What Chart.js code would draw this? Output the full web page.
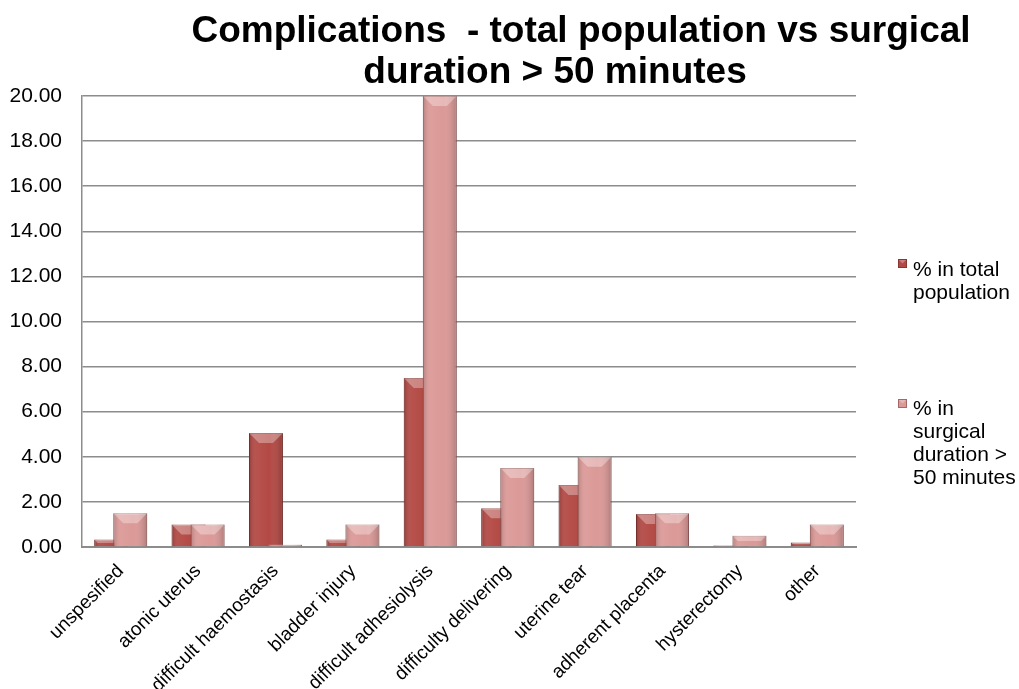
<!DOCTYPE html>
<html><head><meta charset="utf-8">
<script src="https://cdn.jsdelivr.net/npm/chart.js@4.4.1/dist/chart.umd.min.js"></script>
<style>html,body{margin:0;padding:0;background:#fff;} canvas{display:block;}</style>
</head><body>
<canvas id="c" width="1019" height="689"></canvas>
<script>
const categories = ['unspesified', 'atonic uterus', 'difficult haemostasis', 'bladder injury', 'difficult adhesiolysis', 'difficulty delivering', 'uterine tear', 'adherent placenta', 'hysterectomy', 'other'];
const totalPopulation = [0.33, 1.0, 5.05, 0.33, 7.5, 1.72, 2.75, 1.46, 0.07, 0.2];
const surgicalOver50 = [1.5, 1.0, 0.1, 1.0, 20.0, 3.5, 4.0, 1.5, 0.5, 1.0];
const yTicks = [0, 2, 4, 6, 8, 10, 12, 14, 16, 18, 20];
const seriesNames = ['% in total population', '% in surgical duration > 50 minutes'];
const legendLines = [['% in total', 'population'], ['% in', 'surgical', 'duration >', '50 minutes']];
const titleLines = ['Complications  - total population vs surgical', 'duration > 50 minutes'];

const FONT = '"Liberation Sans", Arial, Helvetica, sans-serif';
Chart.defaults.font.family = FONT;
Chart.defaults.color = '#000';

const colors = [
  {fill: '#b34944', border: '#8a3532'},
  {fill: '#db9997', border: '#a56866'}
];

function shadeBars(ctx, meta) {
  meta.data.forEach(bar => {
    const p = bar.getProps(['x', 'y', 'base', 'width'], true);
    const left = p.x - p.width / 2, right = p.x + p.width / 2;
    const top = Math.min(p.y, p.base), bottom = Math.max(p.y, p.base);
    const h = bottom - top;
    if (h <= 0) return;
    const g = ctx.createLinearGradient(left, 0, right, 0);
    g.addColorStop(0, 'rgba(0,0,0,0.18)');
    g.addColorStop(0.2, 'rgba(255,255,255,0.06)');
    g.addColorStop(0.6, 'rgba(255,255,255,0)');
    g.addColorStop(1, 'rgba(0,0,0,0.2)');
    ctx.fillStyle = g;
    ctx.fillRect(left, top, p.width, h);
    const b = Math.min(10, h / 2, p.width / 2);
    ctx.beginPath();
    ctx.moveTo(left, top); ctx.lineTo(right, top);
    ctx.lineTo(right - b, top + b); ctx.lineTo(left + b, top + b); ctx.closePath();
    ctx.fillStyle = 'rgba(255,255,255,0.32)';
    ctx.fill();
  });
}

const drawOrder = {
  id: 'drawOrder',
  beforeDatasetsDraw(chart) {
    const ctx = chart.ctx, a = chart.chartArea;
    ctx.save();
    ctx.beginPath();
    ctx.rect(a.left, a.top - 2, a.right - a.left, a.bottom - a.top + 2);
    ctx.clip();
    [0, 1].forEach(i => {
      const meta = chart.getDatasetMeta(i);
      meta.controller.draw();
      shadeBars(ctx, meta);
    });
    ctx.restore();
    return false;
  }
};

const titleAndLegend = {
  id: 'titleAndLegend',
  afterDraw(chart) {
    const ctx = chart.ctx;
    ctx.save();
    ctx.fillStyle = '#000';
    ctx.textBaseline = 'alphabetic';
    ctx.textAlign = 'center';
    ctx.font = 'bold 37px ' + FONT;
    ctx.fillText(titleLines[0], 581, 42);
    ctx.fillText(titleLines[1], 555, 83);

    ctx.textAlign = 'left';
    ctx.font = '21px ' + FONT;
    const boxY = [259, 399];
    const firstBase = [276, 415];
    legendLines.forEach((lines, i) => {
      const bx = 898, by = boxY[i];
      ctx.fillStyle = colors[i].fill;
      ctx.fillRect(bx, by, 9, 9);
      ctx.fillStyle = 'rgba(255,255,255,0.3)';
      ctx.beginPath(); ctx.moveTo(bx, by); ctx.lineTo(bx + 9, by); ctx.lineTo(bx + 4.5, by + 4.5); ctx.closePath(); ctx.fill();
      ctx.strokeStyle = colors[i].border; ctx.lineWidth = 1;
      ctx.strokeRect(bx + 0.5, by + 0.5, 8, 8);
      ctx.fillStyle = '#000';
      lines.forEach((t, k) => ctx.fillText(t, 913, firstBase[i] + k * 23));
    });
    ctx.restore();
  }
};

new Chart(document.getElementById('c'), {
  type: 'bar',
  data: {
    labels: categories,
    datasets: [
      {label: seriesNames[0], data: totalPopulation, backgroundColor: colors[0].fill, borderColor: colors[0].border, borderWidth: 1},
      {label: seriesNames[1], data: surgicalOver50, backgroundColor: colors[1].fill, borderColor: colors[1].border, borderWidth: 1}
    ]
  },
  options: {
    responsive: false,
    animation: false,
    datasets: {bar: {categoryPercentage: 0.493, barPercentage: 1.78}},
    layout: {padding: {left: 8, right: 163, top: 96, bottom: 0}},
    plugins: {legend: {display: false}, title: {display: false}, tooltip: {enabled: false}},
    scales: {
      x: {
        grid: {display: false, drawTicks: false},
        border: {display: true, color: '#8c8c8c', width: 2},
        ticks: {minRotation: 45, maxRotation: 45, autoSkip: false, padding: 13, font: {size: 19}, color: '#000'},
        afterFit(s) { s.height = 142; }
      },
      y: {
        min: 0, max: 20,
        afterBuildTicks(s) { s.ticks = yTicks.map(v => ({value: v})); },
        ticks: {padding: 20, font: {size: 21}, color: '#000', callback: v => Number(v).toFixed(2)},
        grid: {color: '#8c8c8c', lineWidth: 1.5, drawTicks: false},
        border: {display: true, color: '#8c8c8c', width: 1.5},
        afterFit(s) { s.width = 74; }
      }
    }
  },
  plugins: [drawOrder, titleAndLegend]
});
</script>
</body></html>
